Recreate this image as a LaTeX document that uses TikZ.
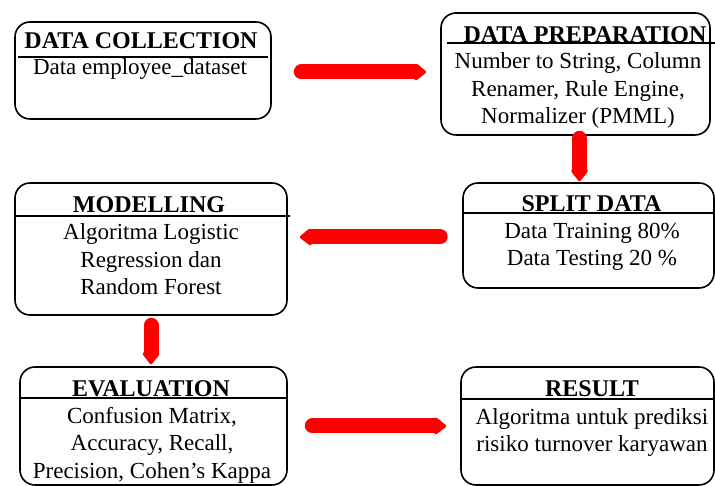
\documentclass[tikz,border=0pt]{standalone}
\usepackage{fontspec}
\setmainfont{Liberation Serif}
\usetikzlibrary{arrows.meta}
\definecolor{flowred}{RGB}{255,0,0}
\begin{document}
\begin{tikzpicture}[x=1pt,y=1pt,
  stagebox/.style={draw=black,line width=1.6pt,rounded corners=15pt,inner sep=0pt},
  headtext/.style={font=\fontsize{24}{27.5}\selectfont\bfseries,inner sep=0pt,anchor=base},
  bodytext/.style={font=\fontsize{23}{27.5}\selectfont,inner sep=0pt,anchor=base,align=center},
  divider/.style={line width=2.5pt},
  flow/.style={draw=flowred,line width=15pt,line cap=round,
    -{Triangle[round,line width=3pt,width=19pt,length=13pt,color=flowred,fill=flowred]}}]
\useasboundingbox (0,0) rectangle (715,486);

% boxes
\node[stagebox,minimum width=256pt,minimum height=97pt] (dc) at (143,415.5) {};
\node[stagebox,minimum width=269pt,minimum height=122pt] (dp) at (575.5,412) {};
\node[stagebox,minimum width=251pt,minimum height=105pt] (sd) at (588.5,250.5) {};
\node[stagebox,minimum width=272pt,minimum height=132pt] (md) at (151,237) {};
\node[stagebox,minimum width=267pt,minimum height=118pt] (ev) at (153.5,60) {};
\node[stagebox,minimum width=253pt,minimum height=118pt] (rs) at (587.5,60) {};

% dividers
\draw[line width=1.8pt] (18,429) -- (268,429);
\draw[divider] (447,443) -- (715,443);
\draw[divider] (463,273) -- (714,273);
\draw[divider] (15,270) -- (290,270);
\draw[divider] (20,88) -- (287,88);
\draw[divider] (461,87) -- (715,87);

% headers
\node[headtext] (dch) at (141,437) {DATA COLLECTION};
\node[headtext] (dph) at (585,443) {DATA PREPARATION};
\node[headtext] (sdh) at (591.5,274) {SPLIT DATA};
\node[headtext] (mdh) at (149,273) {MODELLING};
\node[headtext] (evh) at (151,89) {EVALUATION};
\node[headtext] (rsh) at (592,89) {RESULT};

% bodies (anchor base = last line's baseline)
\node[bodytext] (dcb) at (140,411) {Data employee\_dataset};
\node[bodytext] (dpb) at (578,362) {Number to String, Column\\Renamer, Rule Engine,\\Normalizer (PMML)};
\node[bodytext] (sdb) at (592,220) {Data Training 80\%\\Data Testing 20 \%};
\node[bodytext] (mdb) at (151,191) {Algoritma Logistic\\Regression dan\\Random Forest};
\node[bodytext] (evb) at (152,7.5) {Confusion Matrix,\\Accuracy, Recall,\\Precision, Cohen’s Kappa};
\node[bodytext] (rsb) at (592,34) {Algoritma untuk prediksi\\risiko turnover karyawan};

% arrows
\draw[flow] ([xshift=29.5pt,yshift=-1.5pt]dc.east) -- ([xshift=-14pt,yshift=2pt]dp.west);
\draw[flow] ([xshift=4pt,yshift=-2.5pt]dp.south) -- ([xshift=-9pt,yshift=1pt]sd.north);
\draw[flow] ([xshift=-22pt,yshift=-1.5pt]sd.west) -- ([xshift=12pt,yshift=12pt]md.east);
\draw[flow] ([yshift=-9.5pt]md.south) -- ([xshift=-2.5pt,yshift=2pt]ev.north);
\draw[flow] ([xshift=24.5pt]ev.east) -- ([xshift=-14pt]rs.west);
\end{tikzpicture}
\end{document}
